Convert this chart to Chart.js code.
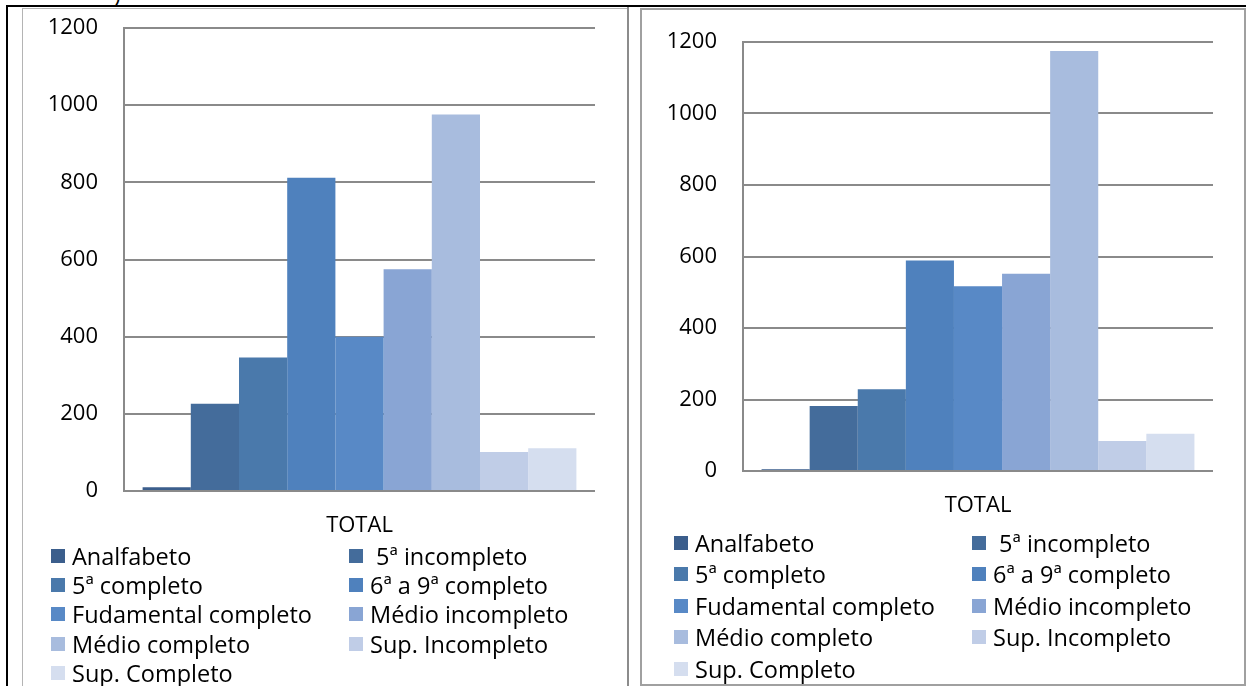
<!DOCTYPE html>
<html>
<head>
<meta charset="utf-8">
<script src="https://cdn.jsdelivr.net/npm/chart.js@4.4.1/dist/chart.umd.min.js"></script>
<style>
  html, body { margin: 0; padding: 0; background: #fff; }
  body { width: 1246px; height: 686px; position: relative; overflow: hidden; font-family: "Open Sans", sans-serif; }
  .rule { position: absolute; }
  .box { position: absolute; box-sizing: border-box; }
  canvas { position: absolute; }
  .legend { position: absolute; display: grid; }
  .legend .item { display: flex; align-items: center; white-space: pre; color: #000; }
  .legend .swatch { width: 14px; height: 14px; margin-right: 7px; flex: none; }
  .stray { position: absolute; font-size: 22px; line-height: 1; }
</style>
</head>
<body>
<div class="stray" style="left:114px; top:-17px;">)</div>
<div class="rule" style="left:6px; top:5px; width:1240px; height:2px; background:#000;"></div>
<div class="rule" style="left:6px; top:5px; width:2px; height:681px; background:#000;"></div>
<div class="box" style="left:22px; top:8px; width:607px; height:700px; border:1px solid #b4b4b4;"></div>
<div class="rule" style="left:627px; top:7px; width:2px; height:679px; background:#8c8c8c;"></div>
<div class="box" style="left:640px; top:8px; width:606px; height:678px; border:2px solid #a0a0a0;"></div>

<canvas id="chart-left" width="606" height="678" style="left:22px; top:8px;"></canvas>
<canvas id="chart-right" width="604" height="677" style="left:641px; top:8px;"></canvas>
<div id="legend-left" class="legend"></div>
<div id="legend-right" class="legend"></div>

<script>
const categories = ["TOTAL"];
const seriesNames = [
  "Analfabeto",
  " 5ª incompleto",
  "5ª completo",
  "6ª a 9ª completo",
  "Fudamental completo",
  "Médio incompleto",
  "Médio completo",
  "Sup. Incompleto",
  "Sup. Completo",
];
const leftValues = [10, 226, 346, 812, 400, 575, 976, 101, 111];
const rightValues = [5, 182, 229, 589, 517, 552, 1175, 84, 104];
const seriesColors = [
  "#3b5e8c", "#446c9b", "#4a79ab", "#4f81bd", "#5889c6",
  "#89a5d4", "#a8bcde", "#c0cde7", "#d5deef",
];
const yMax = 1200;
const yStep = 200;

const axisGray = "#8a8a8a";
const tickFont = { family: "'Open Sans', sans-serif", size: 22 };

function buildChart(canvasId, values, pad) {
  return new Chart(document.getElementById(canvasId), {
    type: "bar",
    data: {
      labels: categories,
      datasets: seriesNames.map((name, i) => ({
        label: name,
        data: [values[i]],
        backgroundColor: seriesColors[i],
        borderWidth: 0,
      })),
    },
    options: {
      responsive: false,
      animation: false,
      layout: { padding: pad },
      datasets: { bar: { categoryPercentage: 0.921, barPercentage: 1 } },
      plugins: { legend: { display: false }, tooltip: { enabled: false } },
      scales: {
        x: {
          grid: { display: false, drawTicks: false },
          border: { display: false },
          ticks: { font: tickFont, color: "#000", padding: 22 },
          afterFit(scale) { scale.height = 70; },
        },
        y: {
          min: 0,
          max: yMax,
          ticks: {
            stepSize: yStep,
            font: tickFont,
            color: "#000",
            padding: 26,
            callback: (value) => String(value),
          },
          grid: { color: axisGray, lineWidth: 2, drawTicks: false },
          border: { color: axisGray, width: 2 },
          afterFit(scale) {
            // keep the plot edges where the layout padding puts them
            scale.width = 102;
            scale.paddingTop = 0;
            scale.paddingBottom = 0;
          },
        },
      },
    },
  });
}

function buildLegend(id, left, top, rowHeight, colWidth) {
  const el = document.getElementById(id);
  el.style.left = left + "px";
  el.style.top = top + "px";
  el.style.gridTemplateColumns = `${colWidth}px auto`;
  el.style.gridAutoRows = rowHeight + "px";
  seriesNames.forEach((name, i) => {
    const item = document.createElement("div");
    item.className = "item";
    item.style.fontSize = "23.5px";
    const swatch = document.createElement("span");
    swatch.className = "swatch";
    swatch.style.background = seriesColors[i];
    const text = document.createElement("span");
    text.textContent = name;
    item.append(swatch, text);
    el.append(item);
  });
}

buildChart("chart-left", leftValues, { top: 20, right: 33, bottom: 125, left: 0 });
buildChart("chart-right", rightValues, { top: 34, right: 32, bottom: 144, left: 0 });
buildLegend("legend-left", 51, 541, 29.3, 298);
buildLegend("legend-right", 674, 527, 31.5, 298);
</script>
</body>
</html>
